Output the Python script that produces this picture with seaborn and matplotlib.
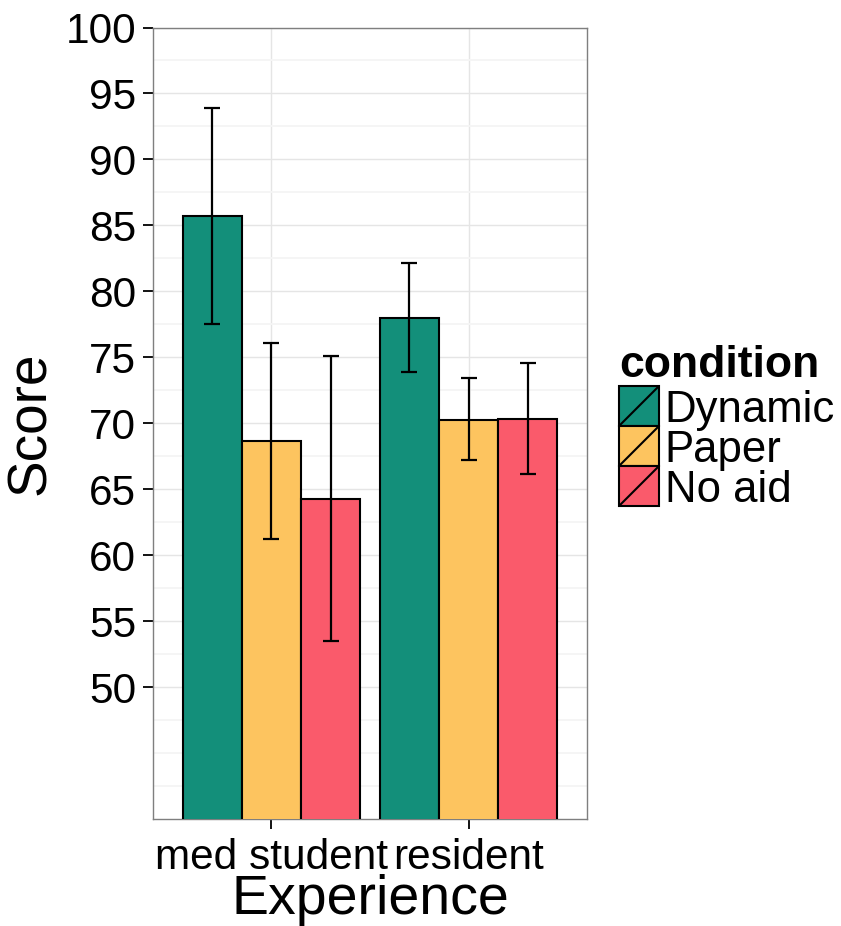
import matplotlib
matplotlib.use("Agg")
import matplotlib.pyplot as plt
from matplotlib.patches import Rectangle
from matplotlib.lines import Line2D
from matplotlib.text import Text
from matplotlib.legend_handler import HandlerBase
import seaborn as sns
import pandas as pd
import numpy as np

experience = ["med student", "resident"]
conditions = ["Dynamic", "Paper", "No aid"]
colors = ["#138F7A", "#FDC45F", "#FA5A6B"]
# mean scores [experience][condition]
means = {
    "Dynamic": [85.74, 77.97],
    "Paper": [68.62, 70.27],
    "No aid": [64.28, 70.32],
}
err_low = {
    "Dynamic": [77.54, 73.85],
    "Paper": [61.23, 67.23],
    "No aid": [53.50, 66.12],
}
err_high = {
    "Dynamic": [93.92, 82.13],
    "Paper": [76.05, 73.42],
    "No aid": [75.09, 74.56],
}
yticks = [50, 55, 60, 65, 70, 75, 80, 85, 90, 95, 100]
minor_ticks = [42.5, 45, 47.5] + [52.5 + 5 * i for i in range(10)]

rows = []
for c in conditions:
    for i, e in enumerate(experience):
        rows.append({"Experience": e, "condition": c, "Score": means[c][i],
                     "lo": err_low[c][i], "hi": err_high[c][i]})
df = pd.DataFrame(rows)

sns.set_style("white")
plt.rcParams["font.family"] = ["Liberation Sans", "DejaVu Sans"]
for k in ["text.color", "axes.labelcolor", "xtick.color", "ytick.color"]:
    plt.rcParams[k] = "black"

fig = plt.figure(figsize=(8.41, 9.26), dpi=100)
ax = fig.add_axes([153 / 841, 1 - 819 / 926, (587 - 153) / 841, (819 - 27.5) / 926])

sns.barplot(data=df, x="Experience", y="Score", hue="condition",
            order=experience, hue_order=conditions, palette=colors,
            width=0.9, errorbar=None, edgecolor="black", linewidth=1.5,
            saturation=1, ax=ax, legend=False, zorder=3)

# error bars at the bar centres
for cont, c in zip(ax.containers, conditions):
    for bar, e in zip(cont, experience):
        xc = bar.get_x() + bar.get_width() / 2
        r = df[(df.condition == c) & (df.Experience == e)].iloc[0]
        ax.errorbar([xc], [r.Score], yerr=[[r.Score - r.lo], [r.hi - r.Score]],
                    fmt="none", ecolor="black", elinewidth=1.6, capsize=6,
                    capthick=1.6, zorder=4)

ax.set_xlim(-0.6, 1.6)
ax.set_ylim(40, 100)
ax.set_yticks(yticks)
ax.set_yticks(minor_ticks, minor=True)
ax.set_axisbelow(True)
ax.grid(which="major", color="#E5E5E5", linewidth=1.0, zorder=0)
ax.grid(which="minor", axis="y", color="#F5F5F5", linewidth=1.3, zorder=0)
ax.tick_params(axis="both", which="major", length=7, width=1.3, color="black",
               direction="out", left=True, bottom=True)
ax.tick_params(axis="y", which="minor", length=0)
ax.tick_params(axis="y", labelsize=30.5, pad=5)
ax.tick_params(axis="x", labelsize=30.5, pad=7)
for s in ax.spines.values():
    s.set_color("#7F7F7F")
    s.set_linewidth(1.0)
ax.set_xlabel("Experience", fontsize=40, labelpad=-3)
ax.set_ylabel("Score", fontsize=39.5, labelpad=6)

LABEL_FS = 31.5


class HandlerSlash(HandlerBase):
    def create_artists(self, legend, orig_handle, xdescent, ydescent,
                       width, height, fontsize, trans):
        x0, y0 = -xdescent, -ydescent
        r = Rectangle((x0, y0), width, height,
                      facecolor=orig_handle.get_facecolor(), edgecolor="black",
                      linewidth=1.5, transform=trans)
        l = Line2D([x0, x0 + width], [y0, y0 + height],
                   color="black", linewidth=1.5, transform=trans)
        t = Text(x0 + width + 4, y0 + height / 2 - 0.716 * LABEL_FS / 2,
                 orig_handle.get_label(), fontsize=LABEL_FS, color="black",
                 ha="left", va="baseline", transform=trans,
                 fontfamily=["Liberation Sans", "DejaVu Sans"])
        return [r, l, t]


handles = [Rectangle((0, 0), 1, 1, facecolor=col, label=lab)
           for col, lab in zip(colors, conditions)]
LEG_FS = 10
key_pt = 40 / (100 / 72)
hh = (key_pt / LEG_FS - 0.245) / 0.65
leg = fig.legend(handles, ["", "", ""], handler_map={Rectangle: HandlerSlash()},
                 loc="upper left", bbox_to_anchor=(619 / 841, 1 - 345 / 926),
                 frameon=False, fontsize=LEG_FS, title="condition",
                 title_fontproperties={"weight": "bold", "size": 32},
                 handlelength=key_pt / LEG_FS, handleheight=hh,
                 handletextpad=0.0, labelspacing=0.0, borderpad=0.0,
                 borderaxespad=0.0)
leg._legend_box.align = "left"

fig.savefig("out.png", dpi=100)
